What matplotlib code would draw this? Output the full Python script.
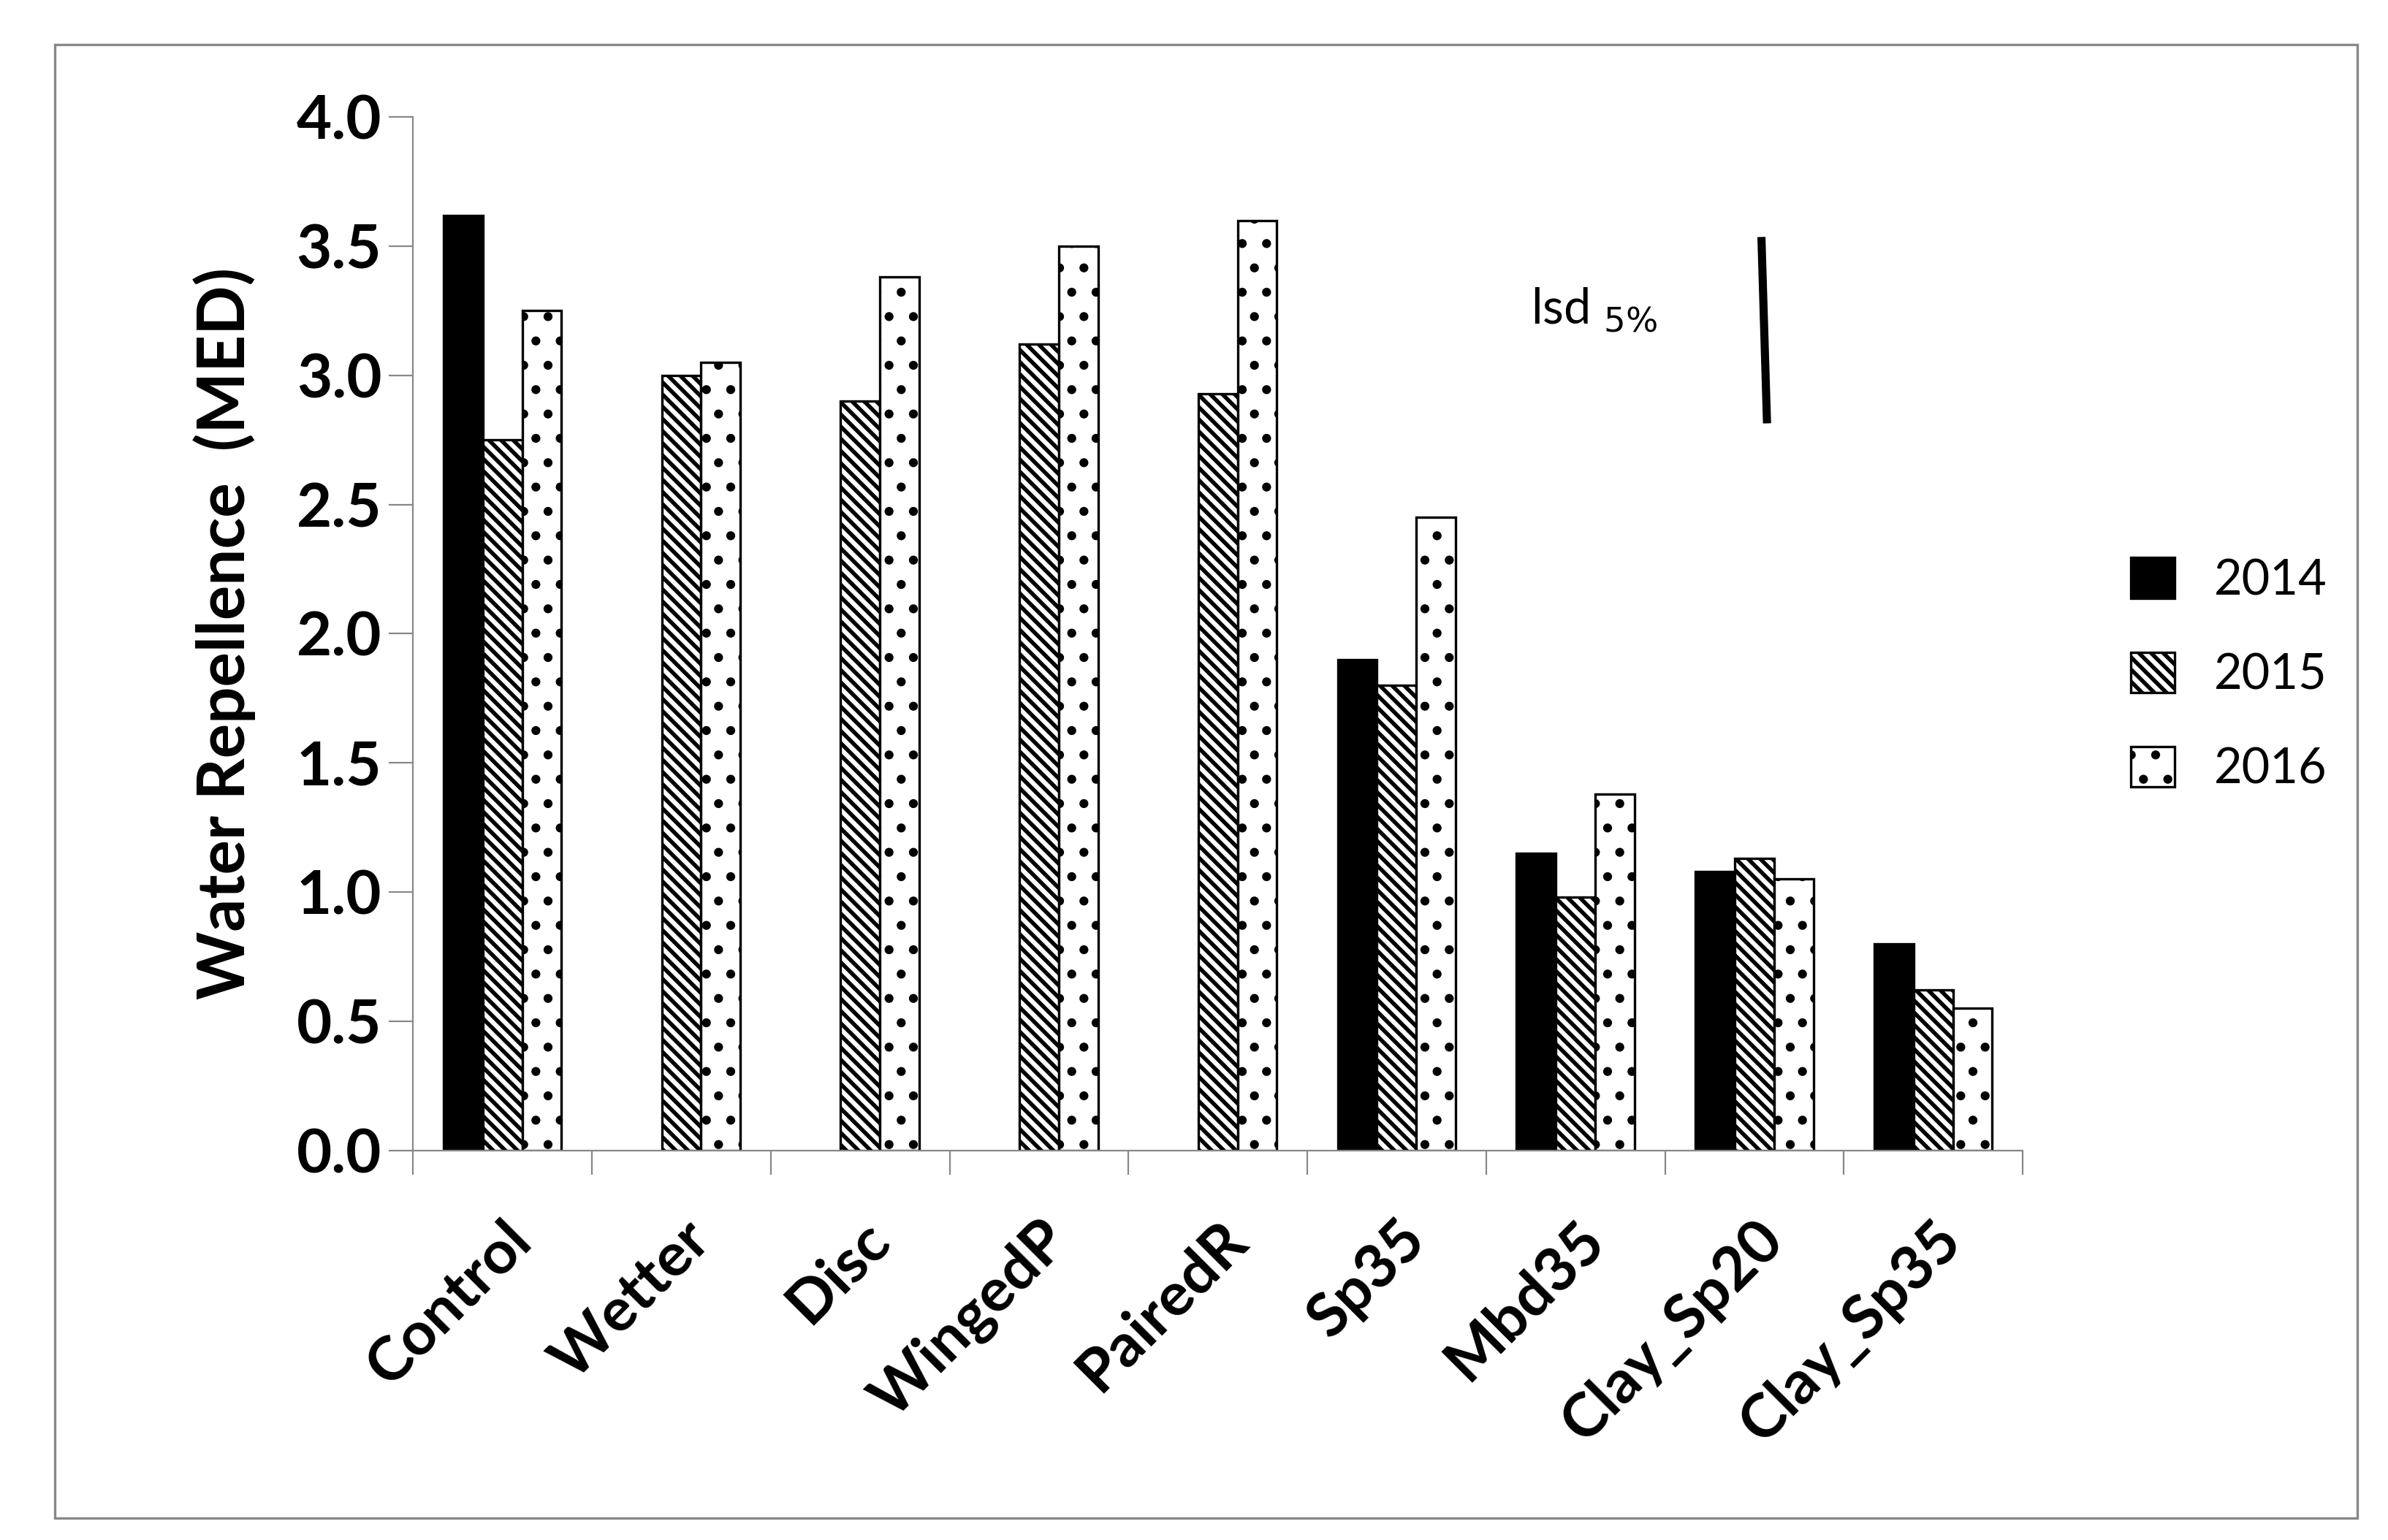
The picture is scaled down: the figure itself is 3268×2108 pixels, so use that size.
import numpy as np
import matplotlib.pyplot as plt
import matplotlib.patches as mpatches

plt.rcParams['font.family'] = ['Lato', 'DejaVu Sans']
plt.rcParams['hatch.linewidth'] = 2.0

categories = ['Control', 'Wetter', 'Disc', 'WingedP', 'PairedR', 'Sp35', 'Mbd35', 'Clay_Sp20', 'Clay_Sp35']
y2014 = [3.62, np.nan, np.nan, np.nan, np.nan, 1.90, 1.15, 1.08, 0.80]
y2015 = [2.75, 3.00, 2.90, 3.12, 2.93, 1.80, 0.98, 1.13, 0.62]
y2016 = [3.25, 3.05, 3.38, 3.50, 3.60, 2.45, 1.38, 1.05, 0.55]
years = ['2014', '2015', '2016']

fig = plt.figure(figsize=(16.34, 10.54), dpi=200)
fig.patches.append(mpatches.Rectangle((0.023, 0.014), 0.964, 0.957, transform=fig.transFigure,
                                      fill=False, edgecolor='#888888', linewidth=1.2))
ax = fig.add_axes([0.173, 0.253, 0.674, 0.671])

x = np.arange(len(categories))
w = 0.22
styles = [dict(color='black', edgecolor='black'),
          dict(color='white', edgecolor='black', hatch='\\\\\\\\'),
          dict(color='white', edgecolor='black', hatch='.')]
for off, vals, st, lab in zip([-w, 0, w], [y2014, y2015, y2016], styles, years):
    ax.bar(x + off, vals, w, linewidth=1.2, label=lab, **st)

ax.set_xlim(-0.5, len(categories) - 0.5)
ax.set_ylim(0, 4.0)
ax.set_yticks(np.arange(0, 4.01, 0.5))
ax.set_yticklabels([f'{v:.1f}' for v in np.arange(0, 4.01, 0.5)], fontsize=30, fontweight='bold')
ax.set_xticks(np.arange(-0.5, len(categories), 1.0))
ax.set_xticklabels([])
ax.set_xticks(x, minor=True)
ax.set_xticklabels(categories, minor=True, rotation=45, ha='right', rotation_mode='anchor',
                   fontsize=30, fontweight='bold')
ax.tick_params(axis='x', which='minor', length=0, pad=30)
ax.tick_params(axis='x', which='major', length=12, color='#888888')
ax.tick_params(axis='y', length=12, color='#888888')
for s in ['top', 'right']:
    ax.spines[s].set_visible(False)
for s in ['left', 'bottom']:
    ax.spines[s].set_color('#888888')
ax.set_ylabel('Water Repellence  (MED)', fontsize=32, fontweight='bold', labelpad=20)

ax.plot([7.04, 7.07], [3.52, 2.83], color='black', linewidth=4)
ax.text(5.75, 3.2, 'lsd $_{5\\%}$', fontsize=24)

ax.legend(loc='center left', bbox_to_anchor=(1.04, 0.46), frameon=False, fontsize=24,
          labelspacing=1.0, handlelength=0.9, handleheight=0.9)

fig.savefig('out.png')
